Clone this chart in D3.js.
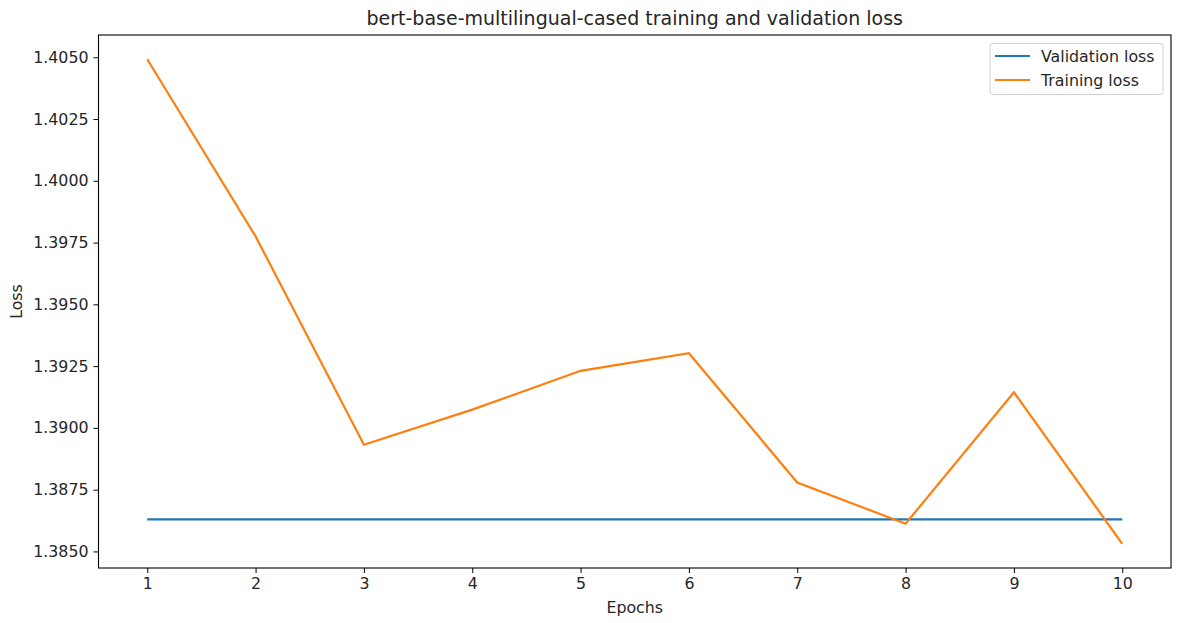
<!DOCTYPE html>
<html>
    <head>
        <style>
            body { margin: 0; background: #ffffff; }
            text { font-family: 'DejaVu Sans', sans-serif; fill: #262626; }
        </style>
    </head>
    <body>
        <script src="https://cdn.jsdelivr.net/npm/d3@7"></script>
        <script type="text/javascript">
            var svgWidth = 1179, svgHeight = 623;

            var epochs = [1, 2, 3, 4, 5, 6, 7, 8, 9, 10];
            var trainingLoss = [1.40492, 1.39775, 1.38932, 1.39074, 1.39231, 1.39302, 1.38779, 1.38612, 1.39144, 1.38531];
            var validationLoss = [1.38630, 1.38630, 1.38630, 1.38630, 1.38630, 1.38630, 1.38630, 1.38630, 1.38630, 1.38630];
            var yTicks = [1.3850, 1.3875, 1.3900, 1.3925, 1.3950, 1.3975, 1.4000, 1.4025, 1.4050];
            var seriesNames = ['Validation loss', 'Training loss'];
            var seriesColors = ['#1f77b4', '#ff7f0e'];

            var plot = { left: 98.5, top: 35, right: 1171, bottom: 568 };
            var tickFont = 15.8, titleFont = 19;

            var svg = d3.select('body')
                .append('svg')
                .attr('width', svgWidth)
                .attr('height', svgHeight);

            // matplotlib-style 5% margins around the data
            var xPad = (d3.max(epochs) - d3.min(epochs)) * 0.05;
            var allY = trainingLoss.concat(validationLoss);
            var yPad = (d3.max(allY) - d3.min(allY)) * 0.05;

            var xScale = d3.scaleLinear()
                .domain([d3.min(epochs) - xPad, d3.max(epochs) + xPad])
                .range([plot.left, plot.right]);
            var yScale = d3.scaleLinear()
                .domain([d3.min(allY) - yPad, d3.max(allY) + yPad])
                .range([plot.bottom, plot.top]);

            var xAxis = d3.axisBottom(xScale).tickValues(epochs).tickSize(5).tickPadding(5)
                .tickFormat(d3.format('d'));
            var yAxis = d3.axisLeft(yScale).tickValues(yTicks).tickSize(5).tickPadding(5)
                .tickFormat(d3.format('.4f'));

            var xAxisNodes = svg.append('g')
                .attr('transform', 'translate(0,' + plot.bottom + ')')
                .call(xAxis);
            var yAxisNodes = svg.append('g')
                .attr('transform', 'translate(' + plot.left + ',0)')
                .call(yAxis);

            [xAxisNodes, yAxisNodes].forEach(function (g) {
                g.select('.domain').remove();
                g.selectAll('.tick line').attr('stroke', '#000').attr('stroke-width', 1);
                g.selectAll('.tick text')
                    .attr('font-size', tickFont)
                    .attr('font-family', 'DejaVu Sans')
                    .attr('fill', '#262626');
            });

            var line = d3.line()
                .x(function (d, i) { return xScale(epochs[i]); })
                .y(function (d) { return yScale(d); });

            [validationLoss, trainingLoss].forEach(function (series, i) {
                svg.append('path')
                    .datum(series)
                    .attr('d', line)
                    .attr('fill', 'none')
                    .attr('stroke', seriesColors[i])
                    .attr('stroke-width', 2.2);
            });

            // frame
            svg.append('rect')
                .attr('x', plot.left)
                .attr('y', plot.top)
                .attr('width', plot.right - plot.left)
                .attr('height', plot.bottom - plot.top)
                .attr('fill', 'none')
                .attr('stroke', '#000')
                .attr('stroke-width', 1.1);

            svg.append('text')
                .attr('x', (plot.left + plot.right) / 2)
                .attr('y', 25)
                .attr('text-anchor', 'middle')
                .attr('font-size', titleFont)
                .text('bert-base-multilingual-cased training and validation loss');

            svg.append('text')
                .attr('x', (plot.left + plot.right) / 2)
                .attr('y', 613)
                .attr('text-anchor', 'middle')
                .attr('font-size', tickFont)
                .text('Epochs');

            svg.append('text')
                .attr('transform', 'translate(22,' + ((plot.top + plot.bottom) / 2) + ') rotate(-90)')
                .attr('text-anchor', 'middle')
                .attr('font-size', tickFont)
                .text('Loss');

            // legend
            var legend = svg.append('g').attr('transform', 'translate(990,43.5)');
            legend.append('rect')
                .attr('width', 173)
                .attr('height', 51)
                .attr('rx', 3)
                .attr('fill', '#fff')
                .attr('fill-opacity', 0.8)
                .attr('stroke', '#d0d0d0');
            seriesNames.forEach(function (name, i) {
                var y = 12.5 + i * 24;
                legend.append('line')
                    .attr('x1', 5).attr('x2', 40)
                    .attr('y1', y).attr('y2', y)
                    .attr('stroke', seriesColors[i])
                    .attr('stroke-width', 2.2);
                legend.append('text')
                    .attr('x', 51)
                    .attr('y', y + 5.5)
                    .attr('font-size', tickFont)
                    .text(name);
            });
        </script>
    </body>
</html>
